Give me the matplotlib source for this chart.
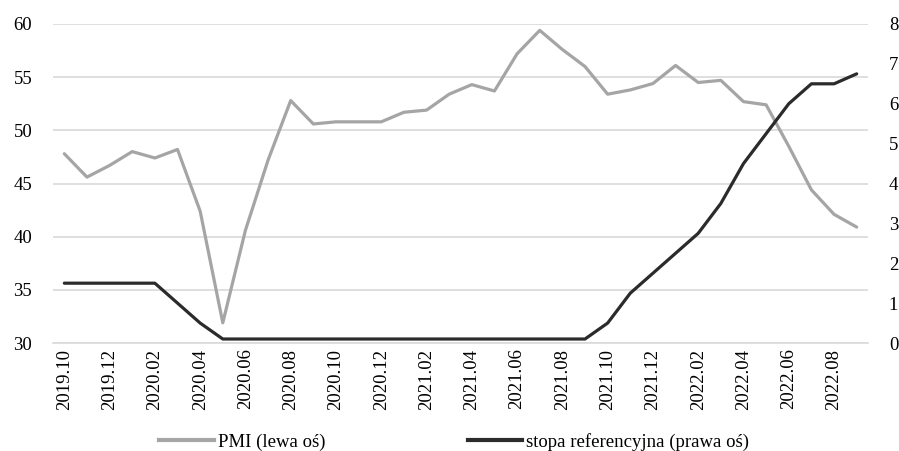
import matplotlib
matplotlib.use("Agg")
import matplotlib.pyplot as plt
from matplotlib.lines import Line2D

labels = ["2019.10","2019.11","2019.12","2020.01","2020.02","2020.03","2020.04","2020.05",
          "2020.06","2020.07","2020.08","2020.09","2020.10","2020.11","2020.12","2021.01",
          "2021.02","2021.03","2021.04","2021.05","2021.06","2021.07","2021.08","2021.09",
          "2021.10","2021.11","2021.12","2022.01","2022.02","2022.03","2022.04","2022.05",
          "2022.06","2022.07","2022.08","2022.09"]
pmi = [47.8, 45.6, 46.7, 48.0, 47.4, 48.2, 42.4, 31.9, 40.6, 47.2, 52.8, 50.6,
       50.8, 50.8, 50.8, 51.7, 51.9, 53.4, 54.3, 53.7, 57.2, 59.4, 57.6, 56.0,
       53.4, 53.8, 54.4, 56.1, 54.5, 54.7, 52.7, 52.4, 48.5, 44.4, 42.1, 40.9]
rate = [1.5, 1.5, 1.5, 1.5, 1.5, 1.0, 0.5, 0.1, 0.1, 0.1, 0.1, 0.1,
        0.1, 0.1, 0.1, 0.1, 0.1, 0.1, 0.1, 0.1, 0.1, 0.1, 0.1, 0.1,
        0.5, 1.25, 1.75, 2.25, 2.75, 3.5, 4.5, 5.25, 6.0, 6.5, 6.5, 6.75]

plt.rcParams['font.family'] = ['Liberation Serif', 'DejaVu Serif']

W, H = 899, 451
fig = plt.figure(figsize=(W/100, H/100), dpi=100)
ax = fig.add_axes([53/W, 1-343/H, (868-53)/W, (343-24)/H])
ax2 = ax.twinx()

x = list(range(len(labels)))
pmi_c = '#a5a5a5'
rate_c = '#2b2b2b'
ax.plot(x, pmi, color=pmi_c, lw=2.3, solid_capstyle='round', zorder=3)
ax2.plot(x, rate, color=rate_c, lw=2.3, solid_capstyle='round', zorder=3)

ax.set_xlim(-0.5, len(labels)-0.5)
ax.set_ylim(30, 60)
ax.set_yticks(range(30, 61, 5))
ax2.set_ylim(0, 8)
ax2.set_yticks(range(0, 9))

ax.grid(axis='y', color='#d9d9d9', lw=1.2)
ax.set_axisbelow(True)
for a in (ax, ax2):
    for s in a.spines.values():
        s.set_visible(False)
ax.spines['bottom'].set_visible(True)
ax.spines['bottom'].set_color('#d9d9d9')
ax.spines['bottom'].set_linewidth(1.2)

ax.set_xticks(x[::2])
ax.set_xticklabels(labels[::2], rotation=90, fontsize=13.5)
ax.tick_params(axis='x', length=0, pad=4)
ax.tick_params(axis='y', length=0, labelsize=13.5, pad=15)
ax2.tick_params(axis='y', length=0, labelsize=13.5, pad=15)

handles = [Line2D([], [], color=pmi_c, lw=3), Line2D([], [], color=rate_c, lw=3)]
fig.legend(handles, ["PMI (lewa oś)", "stopa referencyjna (prawa oś)"], loc='center left',
           bbox_to_anchor=(150/W, 1-442/H), ncol=2, frameon=False, fontsize=13.5,
           handlelength=2.9, handletextpad=0.2, columnspacing=7.6, borderpad=0)

fig.savefig('out.png', dpi=100)
